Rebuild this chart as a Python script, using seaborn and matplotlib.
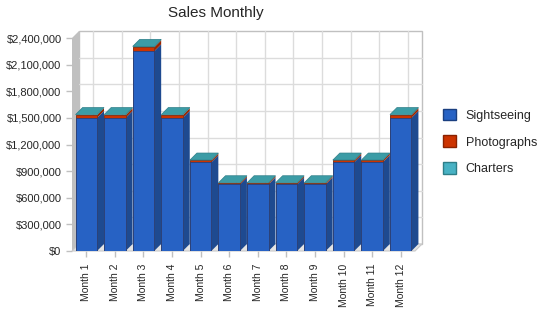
import numpy as np
import pandas as pd
import matplotlib.pyplot as plt
from matplotlib.patches import Polygon, Patch
import seaborn as sns

# Data
months = [f"Month {i}" for i in range(1, 13)]
sightseeing = [1500000, 1500000, 2250000, 1500000, 1000000, 750000,
               750000, 750000, 750000, 1000000, 1000000, 1500000]
photographs = [30000, 30000, 45000, 30000, 20000, 15000,
               15000, 15000, 15000, 20000, 20000, 30000]
charters = [7500, 7500, 11000, 7500, 5000, 4000,
            4000, 4000, 4000, 5000, 5000, 7500]
y_ticks = [0, 300000, 600000, 900000, 1200000, 1500000, 1800000, 2100000, 2400000]
series_names = ["Sightseeing", "Photographs", "Charters"]

df = pd.DataFrame({"Month": months, "Sightseeing": sightseeing,
                   "Photographs": photographs, "Charters": charters})
df["s_p"] = df["Sightseeing"] + df["Photographs"]
df["total"] = df["s_p"] + df["Charters"]

# Colours: front, side, top
blue = ("#2762C4", "#1E4A90", "#2762C4")
red = ("#CC3300", "#992600", "#CC3300")
teal = ("#46AEBE", "#2E7E88", "#3C9CA6")

sns.set_style("white")
plt.rcParams['font.family'] = ['Liberation Sans', 'DejaVu Sans']

W, H = 550, 318
fig = plt.figure(figsize=(5.5, 3.18), dpi=100)
ax = fig.add_axes([72 / W, (H - 251) / H, 343 / W, 213 / H])

ymax = 2400000
dx = 7 / (343 / 12)        # depth offset in category units
dy = 7 / (213 / ymax)      # depth offset in data units

# back wall, grid, left wall, floor
ax.add_patch(Polygon([(-0.5 + dx, dy), (11.5 + dx, dy), (11.5 + dx, ymax + dy), (-0.5 + dx, ymax + dy)],
                     closed=True, facecolor="white", edgecolor="#c0c0c0", lw=1, zorder=0, clip_on=False))
for v in y_ticks[1:-1]:
    ax.plot([-0.5 + dx, 11.5 + dx], [v + dy, v + dy], color="#dcdcdc", lw=1, zorder=0.5, clip_on=False)
for i in range(12):
    ax.plot([i + dx, i + dx], [dy, ymax + dy], color="#dcdcdc", lw=1, zorder=0.5, clip_on=False)
ax.add_patch(Polygon([(-0.5, 0), (-0.5 + dx, dy), (-0.5 + dx, ymax + dy), (-0.5, ymax)],
                     closed=True, facecolor="#c0c0c0", edgecolor="none", zorder=1, clip_on=False))
ax.add_patch(Polygon([(-0.5, 0), (11.5, 0), (11.5 + dx, dy), (-0.5 + dx, dy)],
                     closed=True, facecolor="#e4e4e4", edgecolor="#c8c8c8", lw=0.8, zorder=1, clip_on=False))

# front faces, stacked by overlapping totals
bw = 0.75
sns.barplot(data=df, x="Month", y="total", color=teal[0], saturation=1, width=bw,
            edgecolor="#2E7E88", linewidth=0.5, ax=ax, zorder=3)
sns.barplot(data=df, x="Month", y="s_p", color=red[0], saturation=1, width=bw,
            edgecolor="#8a2200", linewidth=0.5, ax=ax, zorder=3)
sns.barplot(data=df, x="Month", y="Sightseeing", color=blue[0], saturation=1, width=bw,
            edgecolor="#1a3f80", linewidth=0.5, ax=ax, zorder=3)

# side and top faces
layers = [(np.zeros(12), df["Sightseeing"].values, blue),
          (df["Sightseeing"].values, df["s_p"].values, red),
          (df["s_p"].values, df["total"].values, teal)]
bars = ax.containers[2]
for bot, top, col in layers:
    for i, p in enumerate(bars):
        x0 = p.get_x()
        x1 = x0 + p.get_width()
        ax.add_patch(Polygon([(x1, bot[i]), (x1 + dx, bot[i] + dy), (x1 + dx, top[i] + dy), (x1, top[i])],
                             closed=True, facecolor=col[1], edgecolor="none", zorder=2.5, clip_on=False))
tot = df["total"].values
for i, p in enumerate(bars):
    x0 = p.get_x()
    x1 = x0 + p.get_width()
    ax.add_patch(Polygon([(x0, tot[i]), (x0 + dx, tot[i] + dy), (x1 + dx, tot[i] + dy), (x1, tot[i])],
                         closed=True, facecolor=teal[2], edgecolor="#2E7E88", lw=0.5, zorder=3.5, clip_on=False))

ax.set_xlim(-0.5, 11.5)
ax.set_ylim(0, ymax)
ax.set_yticks(y_ticks)
ax.set_yticklabels([f"${v:,}" for v in y_ticks], fontsize=8)
ax.set_xticks(range(12))
ax.set_xticklabels(months, rotation=90, fontsize=7.5)
ax.set_xlabel("")
ax.set_ylabel("")
for s in ax.spines.values():
    s.set_visible(False)
ax.tick_params(axis="y", length=4, width=1, color="#c0c0c0", pad=3.5, left=True)
ax.tick_params(axis="x", length=4, width=1, color="#c0c0c0", pad=5, bottom=True)

fig.text(216 / W, 1 - 13 / H, "Sales Monthly", ha="center", va="center", fontsize=11)

handles = [Patch(facecolor=blue[0], edgecolor="#1a3f80"),
           Patch(facecolor=red[0], edgecolor="#8a2200"),
           Patch(facecolor="#48B2C4", edgecolor="#2E7E88")]
fig.legend(handles, series_names, loc="center left", bbox_to_anchor=(432 / W, 1 - 142 / H),
           frameon=False, fontsize=9, handlelength=1.05, handleheight=1.05,
           labelspacing=1.1, handletextpad=0.75)

fig.savefig("out.png", dpi=100)
